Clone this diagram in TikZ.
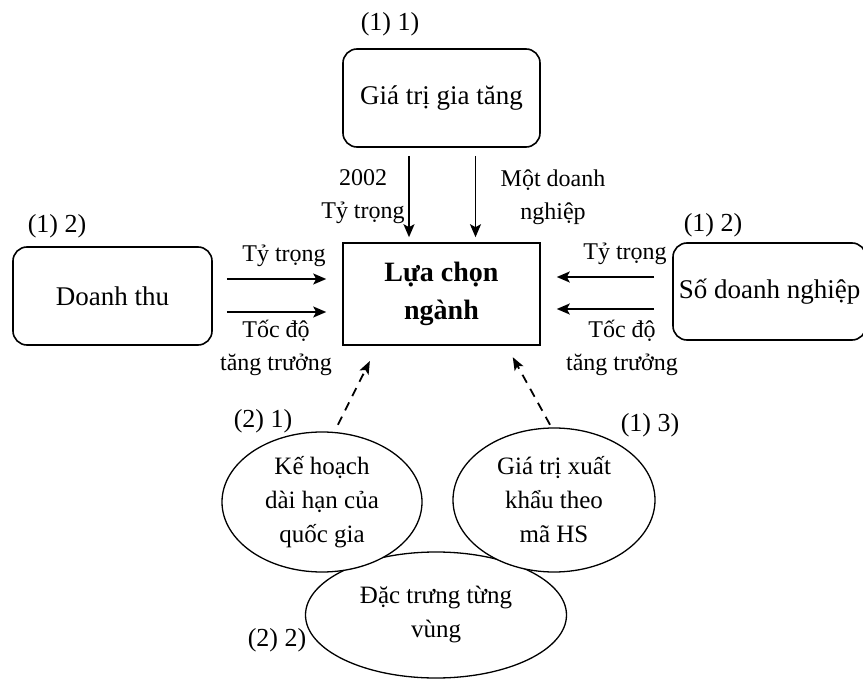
\documentclass[tikz,border=0pt]{standalone}
\usepackage{fontspec}
\setmainfont{Liberation Serif}
\usetikzlibrary{shapes.geometric,arrows.meta}
\begin{document}
\begin{tikzpicture}[x=1pt,y=-1pt,
  box/.style={draw,line width=1.6pt,rounded corners=14pt,inner sep=0pt,font=\fontsize{27}{32}\selectfont},
  mainbox/.style={draw,line width=1.6pt,inner sep=0pt,align=center,font=\fontsize{28}{38}\selectfont\bfseries},
  oval/.style={draw,ellipse,line width=1.3pt,inner sep=0pt,align=center,fill=white,font=\fontsize{25}{34}\selectfont},
  lbl/.style={inner sep=0pt,align=center,font=\fontsize{24}{33}\selectfont},
  tag/.style={inner sep=0pt,font=\fontsize{26}{30}\selectfont},
  arr/.style={line width=1.8pt,-{Stealth[length=13pt,width=11pt,inset=3pt]}},
  darr/.style={line width=1.8pt,dash pattern=on 9pt off 7pt,-{Stealth[length=13pt,width=10pt,inset=3pt]}}
]
\useasboundingbox (0,0) rectangle (863,679);

% boxes
\node[box,minimum width=197pt,minimum height=98pt] (gia) at (441.5,98) {Giá trị gia tăng};
\node[mainbox,minimum width=197pt,minimum height=102pt] (lua) at (441.5,294) {Lựa chọn\\ngành};
\node[box,minimum width=199pt,minimum height=98pt] (dt) at (112.5,296) {Doanh thu};
\node[box,minimum width=193pt,minimum height=97pt] (sdn) at (769.5,291.5) {Số doanh nghiệp};

% tags
\node[tag] (t11) at (390,24) {(1) 1)};
\node[tag] (t12a) at (57,226) {(1) 2)};
\node[tag] (t12b) at (713,225) {(1) 2)};

% vertical inputs
\draw[arr] ([xshift=-32.5pt,yshift=-8pt]gia.south) -- ([xshift=-32.5pt,yshift=5pt]lua.north);
\draw[arr] ([xshift=34pt,yshift=-8pt]gia.south) -- ([xshift=34pt,yshift=5pt]lua.north);
\node[lbl] (l2002) at (363,197) {2002\\Tỷ trọng};
\node[lbl] (lmot) at (553,197) {Một doanh\\nghiệp};

% left inputs
\draw[arr,shorten <=14pt,shorten >=16pt] (dt.east |- 0,279) -- (lua.west |- 0,279);
\draw[arr,shorten <=14pt,shorten >=16pt] (dt.east |- 0,312) -- (lua.west |- 0,312);
\node[lbl] (lty1) at (284,256) {Tỷ trọng};
\node[lbl] (ltd1) at (276,348) {Tốc độ\\tăng trưởng};

% right inputs
\draw[arr,shorten <=18pt,shorten >=16pt] (sdn.west |- 0,277) -- (lua.east |- 0,277);
\draw[arr,shorten <=18pt,shorten >=16pt] (sdn.west |- 0,309) -- (lua.east |- 0,309);
\node[lbl] (lty2) at (625,254) {Tỷ trọng};
\node[lbl] (ltd2) at (622,348) {Tốc độ\\tăng trưởng};

% ovals
\node[oval,minimum width=261pt,minimum height=126pt] (dtv) at (436,615) {Đặc trưng từng\\vùng};
\node[oval,minimum width=200pt,minimum height=140pt] (kh) at (322,502) {Kế hoạch\\dài hạn của\\quốc gia};
\node[oval,minimum width=202pt,minimum height=144pt] (gt) at (554,500) {Giá trị xuất\\khẩu theo\\mã HS};
\node[tag] (t21) at (263,421) {(2) 1)};
\node[tag] (t13) at (650,425) {(1) 3)};
\node[tag] (t22) at (277,640) {(2) 2)};

% dashed inputs
\draw[darr,shorten <=8pt,shorten >=17pt] (kh.80) -- ([xshift=-64pt]lua.south);
\draw[darr,shorten <=3pt,shorten >=13pt] (gt.92) -- ([xshift=65pt]lua.south);
\end{tikzpicture}
\end{document}
